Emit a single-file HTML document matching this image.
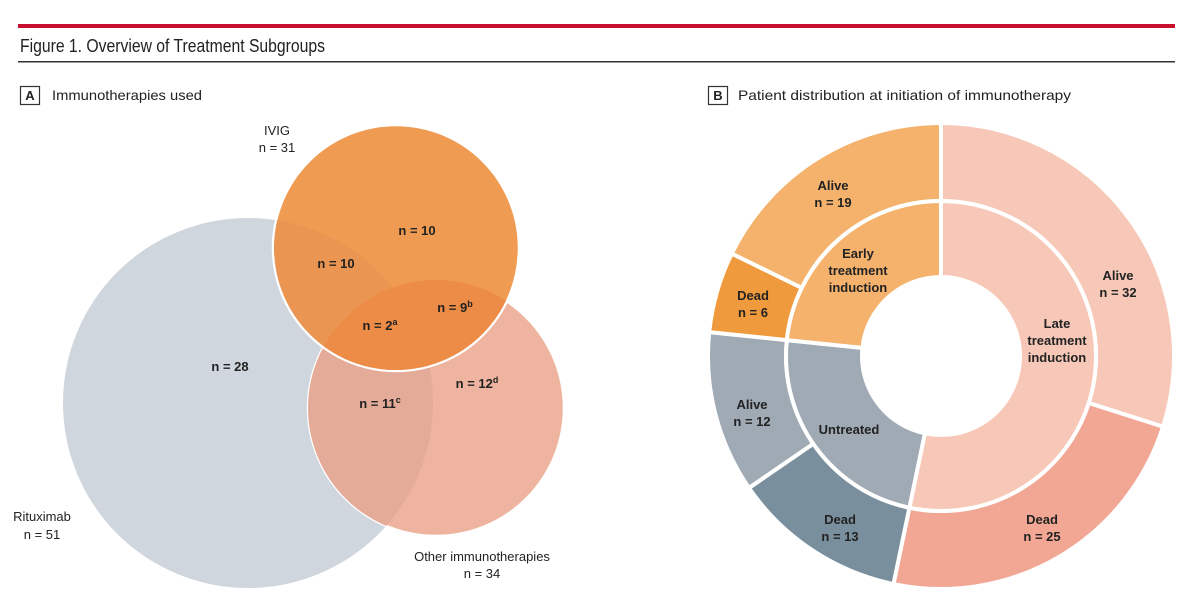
<!DOCTYPE html>
<html><head><meta charset="utf-8"><style>
html,body{margin:0;padding:0;background:#fff;}
svg{display:block;font-family:"Liberation Sans",sans-serif;}
.lb{font-size:13px;font-weight:bold;fill:#222;text-anchor:middle;}
.nl{font-size:13px;fill:#222;text-anchor:middle;}
</style></head><body>
<svg id="fig" width="1200" height="610" viewBox="0 0 1200 610" xmlns="http://www.w3.org/2000/svg">
<rect x="18" y="24" width="1157" height="4" fill="#c8102e"/>
<text x="20" y="52" font-size="18" fill="#222" textLength="305" lengthAdjust="spacingAndGlyphs">Figure 1. Overview of Treatment Subgroups</text>
<rect x="18" y="61" width="1157" height="1.5" fill="#333"/>
<g>
<rect x="20.5" y="86.5" width="19" height="18" fill="none" stroke="#333" stroke-width="1.2"/>
<text x="30" y="100" font-size="13" font-weight="bold" text-anchor="middle" fill="#222">A</text>
<text x="52" y="100" font-size="14" fill="#222" textLength="150" lengthAdjust="spacingAndGlyphs">Immunotherapies used</text>
</g>
<g>
<rect x="708.5" y="86.5" width="19" height="18" fill="none" stroke="#333" stroke-width="1.2"/>
<text x="718" y="100" font-size="13" font-weight="bold" text-anchor="middle" fill="#222">B</text>
<text x="738" y="100" font-size="14" fill="#222" textLength="333" lengthAdjust="spacingAndGlyphs">Patient distribution at initiation of immunotherapy</text>
</g>
<defs>
<clipPath id="cR"><circle cx="248" cy="403" r="185"/></clipPath>
<clipPath id="cO"><circle cx="436" cy="408" r="128"/></clipPath>
</defs>
<g>
<circle cx="248" cy="403" r="185" fill="#d0d6de"/>
<circle cx="436" cy="408" r="128" fill="#efb49f" stroke="#fff" stroke-width="2.5"/>
<circle cx="436" cy="408" r="128" fill="#e4ab99" clip-path="url(#cR)"/>
<circle cx="396" cy="248" r="123" fill="#ef9b52" stroke="#fff" stroke-width="2.5"/>
<circle cx="396" cy="248" r="122" fill="#eb9553" clip-path="url(#cR)"/>
<circle cx="396" cy="248" r="122" fill="#ed8c47" clip-path="url(#cO)"/>
<text class="nl" x="277" y="135">IVIG</text>
<text class="nl" x="277" y="152">n = 31</text>
<text class="lb" x="417" y="235">n = 10</text>
<text class="lb" x="336" y="268">n = 10</text>
<text class="lb" x="380" y="330">n = 2<tspan font-size="9" dy="-5">a</tspan></text>
<text class="lb" x="455" y="312">n = 9<tspan font-size="9" dy="-5">b</tspan></text>
<text class="lb" x="230" y="371">n = 28</text>
<text class="lb" x="380" y="408">n = 11<tspan font-size="9" dy="-5">c</tspan></text>
<text class="lb" x="477" y="388">n = 12<tspan font-size="9" dy="-5">d</tspan></text>
<text class="nl" x="42" y="521">Rituximab</text>
<text class="nl" x="42" y="539">n = 51</text>
<text class="nl" x="482" y="561">Other immunotherapies</text>
<text class="nl" x="482" y="578">n = 34</text>
</g>
<g id="donut"></g>
</svg>
<script>
const outerLabels=["Alive","Dead","Dead","Alive","Dead","Alive"];
const outerValues=[32,25,13,12,6,19];
const outerColors=["#f7c8b8","#f2a794","#7a8f9e","#a0aab5","#ef9a3c","#f4b26c"];
const innerLabels=["Late treatment induction","Untreated","Early treatment induction"];
const innerValues=[57,25,25];
const innerColors=["#f7c8b8","#a0aab5","#f4b26c"];
const outerLabelPos=[[1118,276],[1042,520],[840,520],[752,405],[753,296],[833,186]];
const innerLabelPos=[[1057,324],[849,430],[858,254]];
const NS="http://www.w3.org/2000/svg";
const cx=941,cy=356,R0=79,R1=155,R2=233;
const g=document.getElementById('donut');
function pt(a,r){return [cx+r*Math.sin(a),cy-r*Math.cos(a)];}
function arc(a0,a1,ri,ro){
  const L=(a1-a0)>Math.PI?1:0;
  const p1=pt(a0,ro),p2=pt(a1,ro),p3=pt(a1,ri),p4=pt(a0,ri);
  return `M${p1}A${ro},${ro} 0 ${L} 1 ${p2}L${p3}A${ri},${ri} 0 ${L} 0 ${p4}Z`;
}
function ring(vals,cols,ri,ro,nm){
  const tot=vals.reduce((a,b)=>a+b,0);let a=0;
  vals.forEach((v,i)=>{
    const a1=a+v/tot*2*Math.PI;
    const p=document.createElementNS(NS,'path');
    p.setAttribute('d',arc(a,a1,ri,ro));
    p.setAttribute('fill',cols[i]);
    p.setAttribute('stroke','#fff');
    p.setAttribute('stroke-width','4');
    
    
    g.appendChild(p);a=a1;
  });
}
ring(outerValues,outerColors,R1,R2,'outer');
ring(innerValues,innerColors,R0,R1,'inner');
function txt(lines,x,y,fill){
  const t=document.createElementNS(NS,'text');
  t.setAttribute('class','lb');
  
  
  if(fill)t.setAttribute('fill',fill);
  lines.forEach((l,i)=>{const s=document.createElementNS(NS,'tspan');s.setAttribute('x',x);s.setAttribute('y',y+4+i*17);s.textContent=l;t.appendChild(s);});
  g.appendChild(t);
}
outerValues.forEach((v,i)=>txt([outerLabels[i],'n = '+v],outerLabelPos[i][0],outerLabelPos[i][1],i===2?'#f4f4f4':null));
innerLabels.forEach((l,i)=>{
  const lines=l==='Untreated'?[l]:[l.split(' ')[0],'treatment','induction'];
  txt(lines,innerLabelPos[i][0],innerLabelPos[i][1]);
});
</script>
</body></html>
